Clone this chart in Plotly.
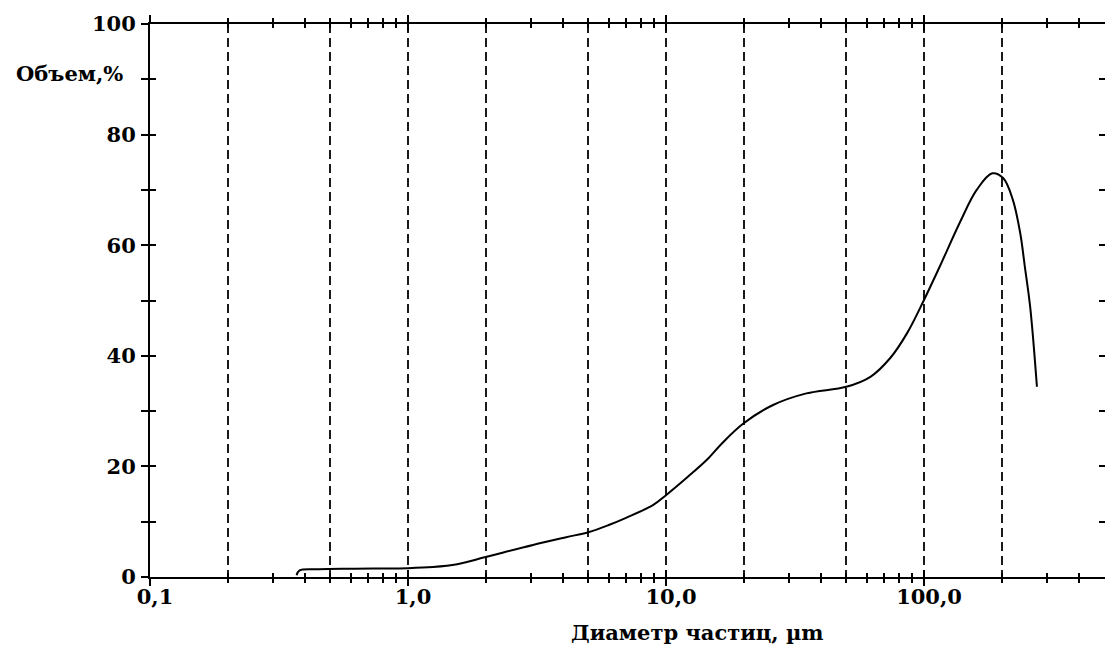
import plotly.graph_objects as go

# Particle size distribution (volume %, log diameter axis)
diameter_um = [0.37, 0.38, 0.45, 0.6, 1.0, 1.25, 1.55, 2.0, 3.05, 4.1, 5.0, 6.0, 7.0,
               8.9, 10.0, 12.0, 14.4, 16.5, 20.0, 26.0, 35.0, 50.0, 62.0, 74.0, 86.0,
               100.0, 115.0, 138.0, 160.0, 184.0, 203.0, 221.0, 236.0, 246.0, 258.0,
               274.0]
volume_pct = [0.3, 1.2, 1.4, 1.5, 1.6, 1.8, 2.3, 3.6, 5.8, 7.2, 8.1, 9.4, 10.7,
              13.0, 14.8, 17.9, 21.2, 24.2, 27.8, 31.1, 33.2, 34.4, 36.2, 39.6, 44.1,
              50.1, 56.1, 64.2, 70.0, 73.0, 72.1, 68.2, 62.2, 56.1, 48.8,
              34.4]

x_major = [0.1, 1, 10, 100]
x_major_text = ["0,1", "1,0", "10,0", "100,0"]
x_minor = [0.2, 0.3, 0.4, 0.5, 0.6, 0.7, 0.8, 0.9,
           2, 3, 4, 5, 6, 7, 8, 9,
           20, 30, 40, 50, 60, 70, 80, 90,
           200, 300, 400]
x_grid = [0.2, 0.5, 1, 2, 5, 10, 20, 50, 100, 200]
y_ticks = [0, 10, 20, 30, 40, 50, 60, 70, 80, 90, 100]
y_tick_text = ["0", "", "20", "", "40", "", "60", "", "80", "", "100"]

W, H = 1105, 646
L, R, T, B = 150, 0, 24, 69
x_range = [-1, -1 + (W - L - R) / 258.0]
y_range = [0, 100]

FONT = "DejaVu Serif"
font_tick = dict(family=FONT, size=21, color="black", weight="bold")

fig = go.Figure()
fig.add_trace(go.Scatter(
    x=diameter_um, y=volume_pct, mode="lines",
    line=dict(color="black", width=2, shape="spline", smoothing=1.0),
    showlegend=False, hoverinfo="skip",
))
# invisible helpers so overlay axes are rendered
for xa, ya in [("x2", "y2"), ("x3", "y3")]:
    fig.add_trace(go.Scatter(x=[1], y=[50], xaxis=xa, yaxis=ya, mode="markers",
                             marker=dict(opacity=0), showlegend=False, hoverinfo="skip"))

common_x = dict(type="log", range=x_range, zeroline=False)
common_y = dict(range=y_range, zeroline=False)

fig.update_layout(
    width=W, height=H,
    margin=dict(l=L, r=R, t=T, b=B),
    paper_bgcolor="white", plot_bgcolor="white",
    xaxis=dict(
        **common_x,
        tickvals=x_major, showticklabels=False,
        ticks="outside", ticklen=7, tickwidth=2, tickcolor="black",
        minor=dict(tickvals=x_minor, ticks="outside", ticklen=4, tickwidth=2,
                   tickcolor="black", showgrid=False),
        showgrid=False,
        showline=True, linewidth=2, linecolor="black", mirror="ticks",
    ),
    xaxis2=dict(
        **common_x, overlaying="x", anchor="y2", side="bottom",
        tickvals=x_major, ticktext=x_major_text, tickfont=font_tick,
        ticklabelstandoff=5, ticklabelshift=5,
        ticks="inside", ticklen=7, tickwidth=2, tickcolor="black",
        minor=dict(tickvals=x_minor, ticks="inside", ticklen=4, tickwidth=2,
                   tickcolor="black", showgrid=False),
        showgrid=False, showline=False, mirror="ticks",
    ),
    xaxis3=dict(
        **common_x, overlaying="x", anchor="y3",
        tickvals=x_grid, showticklabels=False, ticks="",
        showgrid=True, gridcolor="#1a1a1a", gridwidth=1.5, griddash="9px,5px",
        showline=False,
    ),
    yaxis=dict(
        **common_y,
        tickvals=y_ticks, ticktext=y_tick_text,
        ticks="outside", ticklen=7, tickwidth=2, tickcolor="black",
        tickfont=font_tick, ticklabelstandoff=1,
        showgrid=False,
        showline=True, linewidth=2, linecolor="black",
    ),
    yaxis2=dict(
        **common_y, overlaying="y", anchor="x2",
        tickvals=y_ticks, showticklabels=False,
        ticks="inside", ticklen=6, tickwidth=2, tickcolor="black",
        showgrid=False, showline=False,
    ),
    yaxis3=dict(
        **common_y, overlaying="y", anchor="x3", side="right",
        tickvals=y_ticks, showticklabels=False,
        ticks="inside", ticklen=6, tickwidth=2, tickcolor="black",
        showgrid=False, showline=False,
    ),
)

plot_w = W - L - R
plot_h = H - T - B
fig.add_annotation(
    text="Объем,%", xref="paper", yref="paper",
    x=(14 - L) / plot_w, y=(H - B - 73) / plot_h,
    xanchor="left", yanchor="middle", showarrow=False,
    font=dict(family=FONT, size=21, color="black", weight="bold"),
)
fig.add_annotation(
    text="Диаметр частиц, µm", xref="paper", yref="paper",
    x=(697 - L) / plot_w, y=-(632 - (H - B)) / plot_h,
    xanchor="center", yanchor="middle", showarrow=False,
    font=dict(family=FONT, size=21, color="black", weight="bold"),
)

fig.write_html("out.html")
